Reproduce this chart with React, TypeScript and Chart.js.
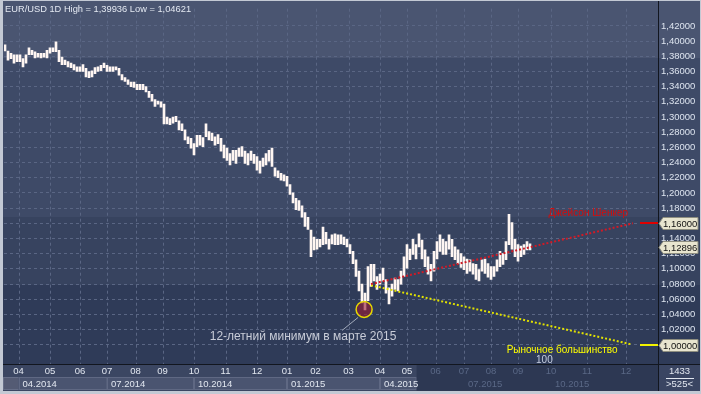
import React, { useEffect, useRef } from "react";
import { Chart, registerables } from "chart.js";

Chart.register(...registerables);

// Daily bars (sampled), high and low of EUR/USD
const highs = [
  1.395, 1.387, 1.384, 1.382, 1.382, 1.382, 1.377, 1.382, 1.391, 1.388,
  1.386, 1.384, 1.384, 1.384, 1.388, 1.391, 1.391, 1.399, 1.388, 1.379,
  1.375, 1.373, 1.371, 1.369, 1.366, 1.366, 1.369, 1.364, 1.360, 1.361,
  1.365, 1.366, 1.368, 1.371, 1.368, 1.366, 1.366, 1.366, 1.364, 1.356,
  1.352, 1.349, 1.346, 1.346, 1.343, 1.343, 1.343, 1.340, 1.334, 1.330,
  1.323, 1.321, 1.320, 1.317, 1.300, 1.298, 1.300, 1.301, 1.295, 1.291,
  1.283, 1.274, 1.272, 1.265, 1.276, 1.276, 1.273, 1.291, 1.281, 1.279,
  1.274, 1.277, 1.272, 1.263, 1.259, 1.252, 1.256, 1.256, 1.259, 1.261,
  1.255, 1.252, 1.255, 1.251, 1.248, 1.242, 1.246, 1.252, 1.256, 1.259,
  1.233, 1.229, 1.226, 1.224, 1.222, 1.211, 1.200, 1.193, 1.190, 1.183,
  1.174, 1.168, 1.151, 1.142, 1.139, 1.139, 1.155, 1.148, 1.139, 1.145,
  1.146, 1.145, 1.145, 1.142, 1.139, 1.132, 1.123, 1.112, 1.097, 1.080,
  1.068, 1.103, 1.106, 1.106, 1.090, 1.093, 1.101, 1.086, 1.075, 1.080,
  1.088, 1.086, 1.097, 1.116, 1.132, 1.126, 1.139, 1.132, 1.146, 1.138,
  1.125, 1.116, 1.106, 1.123, 1.136, 1.145, 1.139, 1.136, 1.145, 1.139,
  1.129, 1.125, 1.120, 1.116, 1.113, 1.112, 1.107, 1.106, 1.099, 1.112,
  1.113, 1.107, 1.103, 1.103, 1.112, 1.123, 1.120, 1.136, 1.172, 1.161,
  1.139, 1.132, 1.130, 1.132, 1.136, 1.133,
];

const lows = [
  1.387, 1.375, 1.377, 1.371, 1.373, 1.373, 1.366, 1.371, 1.382, 1.382,
  1.378, 1.379, 1.378, 1.379, 1.378, 1.384, 1.386, 1.386, 1.373, 1.369,
  1.369, 1.366, 1.365, 1.362, 1.360, 1.360, 1.360, 1.353, 1.352, 1.353,
  1.357, 1.360, 1.361, 1.365, 1.360, 1.360, 1.360, 1.362, 1.355, 1.349,
  1.347, 1.343, 1.340, 1.339, 1.336, 1.336, 1.336, 1.333, 1.326, 1.321,
  1.314, 1.317, 1.313, 1.291, 1.291, 1.290, 1.292, 1.294, 1.283, 1.282,
  1.270, 1.265, 1.259, 1.250, 1.261, 1.263, 1.261, 1.274, 1.270, 1.269,
  1.263, 1.265, 1.255, 1.246, 1.243, 1.237, 1.243, 1.239, 1.248, 1.248,
  1.239, 1.237, 1.243, 1.239, 1.230, 1.226, 1.235, 1.237, 1.242, 1.235,
  1.222, 1.220, 1.217, 1.216, 1.209, 1.198, 1.187, 1.178, 1.177, 1.168,
  1.156, 1.152, 1.116, 1.125, 1.126, 1.129, 1.132, 1.133, 1.126, 1.133,
  1.132, 1.132, 1.133, 1.132, 1.129, 1.120, 1.107, 1.090, 1.071, 1.055,
  1.046, 1.058, 1.077, 1.084, 1.073, 1.080, 1.084, 1.068, 1.054, 1.064,
  1.073, 1.071, 1.080, 1.090, 1.101, 1.112, 1.119, 1.113, 1.129, 1.113,
  1.103, 1.093, 1.084, 1.097, 1.113, 1.123, 1.119, 1.119, 1.126, 1.116,
  1.112, 1.107, 1.102, 1.099, 1.094, 1.097, 1.093, 1.086, 1.084, 1.097,
  1.094, 1.089, 1.086, 1.090, 1.097, 1.103, 1.106, 1.112, 1.132, 1.126,
  1.116, 1.110, 1.116, 1.119, 1.125, 1.125,
];

const totalSlots = 218;
const yTicks = [
  1.0, 1.02, 1.04, 1.06, 1.08, 1.1, 1.12, 1.14, 1.16, 1.18, 1.2,
  1.22, 1.24, 1.26, 1.28, 1.3, 1.32, 1.34, 1.36, 1.38, 1.4, 1.42,
];
const yMin = 0.9747;
const yMax = 1.4427;

const monthLabels = [
  "04", "05", "06", "07", "08", "09", "10", "11", "12",
  "01", "02", "03", "04", "05", "06", "07", "08", "09", "10", "11", "12",
];
const monthSlots = [
  4.5, 15, 25, 34, 43.5, 52.5, 63, 73.5, 84,
  94, 103.5, 114.5, 125, 134, 143.5, 153, 162, 171, 182, 194, 207,
];
const quarterLabels = ["04.2014", "07.2014", "10.2014", "01.2015", "04.2015", "07.2015", "10.2015"];
const quarterSlots = [4.5, 34, 63, 94, 125, 153, 182];
const futureStartSlot = 137.2;

const shenkerLine = [
  { x: 122, y: 1.08 },
  { x: 209.3, y: 1.16 },
];
const majorityLine = [
  { x: 122, y: 1.0784 },
  { x: 208.8, y: 1.0006 },
];

const titleText = "EUR/USD 1D High = 1,39936 Low = 1,04621";
const shenkerText = "Джейсон Шенкер";
const majorityText = "Рыночное большинство";
const majorityCount = "100";
const lowText = "12-летний минимум в марте 2015";
const lowPoint = { x: 119.7, y: 1.0466 };
const markerValues = [1.16, 1.12896, 1.0];
const markerLineColors = ["#e00000", null, "#f2f200"];
const cornerTop = "1433";
const cornerBottom = ">525<";

const FONT = '"Liberation Sans", Arial, sans-serif';
const fmt = (v: number) => v.toFixed(5).replace(".", ",");

const bgPlugin = {
  id: "bgPlugin",
  beforeDraw(chart: any) {
    const { ctx, width, height, chartArea: ca, scales } = chart;
    const xs = scales.x;
    ctx.save();
    const bands: [number, number, string][] = [
      [0, 58, "#4a5571"],
      [58, 217, "#3e4a67"],
      [217, 285, "#37435f"],
      [285, ca.bottom, "#2f3b58"],
    ];
    for (const [a, b, c] of bands) {
      ctx.fillStyle = c;
      ctx.fillRect(0, a, width, b - a);
    }
    // bottom axis area
    const axTop = ca.bottom;
    ctx.fillStyle = "#3b4662";
    ctx.fillRect(0, axTop, ca.right, height - axTop);
    // quarter cells (past)
    const fx = xs.getPixelForValue(futureStartSlot);
    const rowTop = axTop + 13;
    const rowBot = height - 4;
    ctx.fillStyle = "#545b74";
    ctx.fillRect(3, rowTop, xs.getPixelForValue(quarterSlots[0]) - 3, rowBot - rowTop);
    ctx.strokeStyle = "#666e88";
    ctx.lineWidth = 1;
    ctx.strokeRect(3.5, rowTop + 0.5, xs.getPixelForValue(quarterSlots[0]) - 3, rowBot - rowTop - 1);
    for (let q = 0; q < quarterSlots.length; q++) {
      const a = xs.getPixelForValue(quarterSlots[q]);
      if (a >= fx) break;
      const b = Math.min(q + 1 < quarterSlots.length ? xs.getPixelForValue(quarterSlots[q + 1]) : fx, fx);
      ctx.fillStyle = "#4a5470";
      ctx.fillRect(a, rowTop, b - a, rowBot - rowTop);
      ctx.strokeStyle = "#5f6883";
      ctx.strokeRect(Math.round(a) + 0.5, rowTop + 0.5, b - a - 1, rowBot - rowTop - 1);
    }
    // future area
    ctx.fillStyle = "#2d3853";
    ctx.fillRect(fx, axTop, ca.right - fx, height - axTop);
    // corner box
    ctx.fillStyle = "#3a4562";
    ctx.fillRect(ca.right, axTop, width - ca.right, height - axTop);
    ctx.restore();
  },
  beforeDatasetsDraw(chart: any) {
    const { ctx, chartArea: ca, scales } = chart;
    ctx.save();
    ctx.strokeStyle = "#5a6684";
    ctx.lineWidth = 1;
    ctx.setLineDash([3, 3]);
    for (const s of monthSlots) {
      const px = Math.round(scales.x.getPixelForValue(s)) + 0.5;
      ctx.beginPath();
      ctx.moveTo(px, ca.top);
      ctx.lineTo(px, ca.bottom);
      ctx.stroke();
    }
    ctx.restore();
  },
};

const overlayPlugin = {
  id: "overlayPlugin",
  afterDraw(chart: any) {
    const { ctx, width, height, chartArea: ca, scales } = chart;
    const xs = scales.x;
    const ys = scales.y;
    ctx.save();

    // low-point circle and callout
    const cx = xs.getPixelForValue(lowPoint.x);
    const cy = ys.getPixelForValue(lowPoint.y);
    ctx.beginPath();
    ctx.arc(cx, cy, 8, 0, Math.PI * 2);
    ctx.fillStyle = "rgba(150,28,52,0.62)";
    ctx.fill();
    ctx.lineWidth = 1.5;
    ctx.strokeStyle = "#e6d800";
    ctx.stroke();
    ctx.beginPath();
    ctx.moveTo(cx - 6, cy + 8);
    ctx.lineTo(cx - 22, cy + 21);
    ctx.lineWidth = 1;
    ctx.strokeStyle = "#a3abbc";
    ctx.stroke();
    ctx.font = `12px ${FONT}`;
    ctx.fillStyle = "#c9cdd8";
    ctx.textAlign = "center";
    ctx.textBaseline = "middle";
    ctx.fillText(lowText, cx - 61, cy + 27);

    // trend labels
    ctx.font = `10px ${FONT}`;
    ctx.textAlign = "left";
    ctx.fillStyle = "#d40c0c";
    ctx.fillText(shenkerText, xs.getPixelForValue(181.2), ys.getPixelForValue(1.173));
    ctx.textAlign = "center";
    ctx.fillStyle = "#ffff00";
    ctx.fillText(majorityText, xs.getPixelForValue(185.7), ys.getPixelForValue(0.9929));
    ctx.fillStyle = "#c4cde0";
    ctx.fillText(majorityCount, xs.getPixelForValue(179.8), ys.getPixelForValue(0.98));

    // axis borders
    ctx.fillStyle = "#12161f";
    ctx.fillRect(ca.right, 0, 1, height);
    ctx.fillRect(0, ca.bottom, width, 1);

    // price marker lines and boxes
    markerValues.forEach((v, k) => {
      const yy = Math.round(ys.getPixelForValue(v));
      const lc = markerLineColors[k];
      if (lc) {
        ctx.fillStyle = lc;
        ctx.fillRect(ca.right - 18, yy - 1, 18, 2);
      }
      const xl = ca.right + 1;
      ctx.beginPath();
      ctx.moveTo(xl, yy + 0.5);
      ctx.lineTo(xl + 4, yy - 5.5);
      ctx.lineTo(xl + 39, yy - 5.5);
      ctx.lineTo(xl + 39, yy + 6.5);
      ctx.lineTo(xl + 4, yy + 6.5);
      ctx.closePath();
      ctx.fillStyle = "#e8e5cf";
      ctx.fill();
      ctx.strokeStyle = "#8e8e80";
      ctx.lineWidth = 1;
      ctx.stroke();
      ctx.fillStyle = "#121212";
      ctx.font = `9.5px ${FONT}`;
      ctx.textAlign = "left";
      ctx.textBaseline = "middle";
      ctx.fillText(fmt(v), xl + 4, yy + 1);
    });

    // x axis labels
    const fx = xs.getPixelForValue(futureStartSlot);
    ctx.font = `9.5px ${FONT}`;
    ctx.textBaseline = "middle";
    ctx.textAlign = "center";
    monthLabels.forEach((m, k) => {
      const px = xs.getPixelForValue(monthSlots[k]);
      ctx.fillStyle = px < fx ? "#e2e7f0" : "#5a6886";
      ctx.fillText(m, px, ca.bottom + 7.5);
    });
    ctx.textAlign = "left";
    quarterLabels.forEach((q, k) => {
      const px = xs.getPixelForValue(quarterSlots[k]);
      ctx.fillStyle = px < fx ? "#e2e7f0" : "#5a6886";
      ctx.fillText(q, px + 4, ca.bottom + 20);
    });

    // corner box
    ctx.textAlign = "center";
    ctx.fillStyle = "#e2e7f0";
    const ccx = (ca.right + width) / 2;
    ctx.fillText(cornerTop, ccx, ca.bottom + 7.5);
    ctx.fillRect(ca.right + 8, ca.bottom + 14, 28, 1);
    ctx.fillText(cornerBottom, ccx, ca.bottom + 20);

    // title
    ctx.textAlign = "left";
    ctx.font = `9.3px ${FONT}`;
    ctx.fillStyle = "#e4e9f2";
    ctx.fillText(titleText, 5, 9);

    // outer frame
    ctx.fillStyle = "#c3c9d4";
    ctx.fillRect(0, 0, 3, height);
    ctx.fillRect(0, height - 3, width, 3);
    ctx.fillRect(0, 0, width, 1);
    ctx.fillRect(width - 1, 0, 1, height);
    ctx.restore();
  },
};

export default function App() {
  const ref = useRef<HTMLCanvasElement>(null);
  useEffect(() => {
    document.body.style.margin = "0";
    const canvas = ref.current!;
    const chart = new Chart(canvas, {
      type: "bar",
      data: {
        datasets: [
          {
            type: "line",
            data: shenkerLine,
            borderColor: "#d01a26",
            borderWidth: 2,
            borderDash: [2, 2],
            pointRadius: 0,
            order: 1,
          } as any,
          {
            type: "line",
            data: majorityLine,
            borderColor: "#e2e200",
            borderWidth: 2,
            borderDash: [2, 2],
            pointRadius: 0,
            order: 1,
          } as any,
          {
            type: "bar",
            data: highs.map((h, i) => ({ x: i, y: [lows[i], h] })),
            backgroundColor: "#fff6f2",
            borderWidth: 0,
            barThickness: 2,
            order: 2,
          } as any,
        ],
      },
      options: {
        animation: false,
        responsive: false,
        maintainAspectRatio: false,
        devicePixelRatio: 1,
        events: [],
        layout: { padding: { left: 4, right: 0, top: 3, bottom: 30 } },
        plugins: { legend: { display: false }, tooltip: { enabled: false } },
        scales: {
          x: {
            type: "linear",
            display: false,
            offset: false,
            min: -1 / 3,
            max: totalSlots - 1 / 3,
          },
          y: {
            type: "linear",
            position: "right",
            min: yMin,
            max: yMax,
            afterBuildTicks: (scale: any) => {
              scale.ticks = yTicks.map((v) => ({ value: v }));
            },
            afterFit: (scale: any) => {
              scale.width = 43;
            },
            grid: { color: "#5a6684", drawTicks: false, lineWidth: 1 },
            border: { display: false, dash: [3, 3] },
            ticks: {
              padding: 3,
              color: "#dde4ef",
              font: { family: FONT, size: 9.5 },
              callback: (v: any) => fmt(Number(v)),
            },
          },
        },
      } as any,
      plugins: [bgPlugin, overlayPlugin],
    });
    return () => chart.destroy();
  }, []);
  return (
    <div style={{ position: "fixed", left: 0, top: 0, width: 701, height: 394 }}>
      <canvas ref={ref} width={701} height={394} style={{ display: "block" }} />
    </div>
  );
}
